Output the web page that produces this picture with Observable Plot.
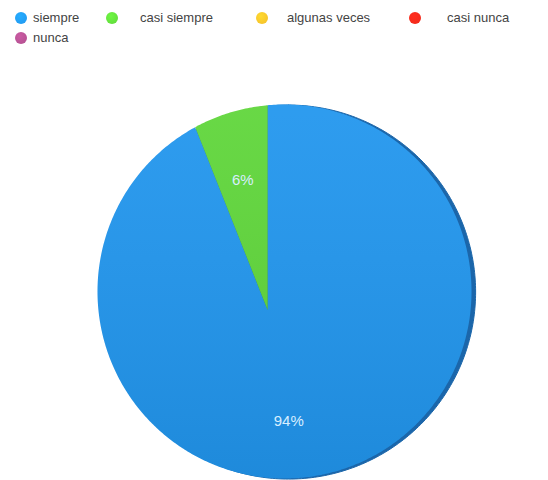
<!DOCTYPE html>
<html>
<head>
<meta charset="utf-8">
<script src="https://cdn.jsdelivr.net/npm/d3@7"></script>
<script src="https://cdn.jsdelivr.net/npm/@observablehq/plot@0.6"></script>
<style>
  body { margin: 0; background: #fff; font-family: "Liberation Sans", Arial, sans-serif; }
  #legend { position: relative; width: 548px; height: 60px; }
  .item { position: absolute; font-size: 13px; color: #444; line-height: 16px; }
  .dot { position: absolute; width: 12px; height: 12px; border-radius: 50%; }
  #chart svg { display: block; }
</style>
</head>
<body>
<div id="legend"></div>
<div id="chart"></div>
<script>
const categories = ["siempre", "casi siempre", "algunas veces", "casi nunca", "nunca"];
const values = [94, 6, 0, 0, 0];
const colors = ["#2196ee", "#5fd63a", "#f3bd2a", "#f0281a", "#b04f8e"];

// legend placement (style only)
const legendPos = [[15, 10, 33], [106, 10, 140], [256, 10, 287], [409, 10, 447], [15, 30, 33]];
const legend = document.getElementById("legend");
categories.forEach((c, i) => {
  const [dx, ty, tx] = legendPos[i];
  const dot = document.createElement("div");
  dot.className = "dot";
  dot.style.left = dx + "px"; dot.style.top = (ty + 2) + "px";
  dot.style.background = `radial-gradient(circle at 40% 35%, ${d3.color(colors[i]).brighter(0.4)}, ${colors[i]})`;
  legend.appendChild(dot);
  const t = document.createElement("div");
  t.className = "item";
  t.style.left = tx + "px"; t.style.top = ty + "px";
  t.textContent = c;
  legend.appendChild(t);
});

const rows = categories.map((c, i) => ({cat: c, value: values[i]}));
const arcs = d3.pie().sort(null).value(d => d.value)(rows).filter(a => a.value > 0);

// perspective-shifted apex of the wedges (tilted disc)
const apex = [-0.09, -0.10];
function edge(a) {
  const d = [Math.sin(a), Math.cos(a)];
  const pd = apex[0] * d[0] + apex[1] * d[1];
  const pp = apex[0] * apex[0] + apex[1] * apex[1];
  const t = -pd + Math.sqrt(pd * pd - pp + 1);
  return [apex[0] + t * d[0], apex[1] + t * d[1], t];
}
const slicePts = [];
for (const a of arcs) {
  slicePts.push({cat: a.data.cat, x: apex[0], y: apex[1]});
  const n = Math.max(2, Math.ceil((a.endAngle - a.startAngle) / 0.01));
  for (let k = 0; k <= n; k++) {
    const ang = a.startAngle + (a.endAngle - a.startAngle) * k / n;
    const [x, y] = edge(ang);
    slicePts.push({cat: a.data.cat, x, y});
  }
}
const disc = (ox, oy, key) => d3.range(0, 361).map(k => ({key, x: ox + Math.sin(k * Math.PI / 180), y: oy + Math.cos(k * Math.PI / 180)}));
const rim = disc(0.022, -0.003, "rim");
const face = disc(0, 0, "face");

const labels = arcs.map(a => {
  const m = (a.startAngle + a.endAngle) / 2;
  const [, , t] = edge(m);
  const f = 0.66 * t;
  return {x: apex[0] + f * Math.sin(m), y: apex[1] + f * Math.cos(m), text: Math.round(a.value / d3.sum(values) * 100) + "%"};
});

const defs = () => {
  const s = d3.create("svg:defs");
  const g = s.append("linearGradient").attr("id", "shade").attr("x1", 0).attr("y1", 0).attr("x2", 0).attr("y2", 1);
  g.append("stop").attr("offset", "0%").attr("stop-color", "#ffffff").attr("stop-opacity", 0.06);
  g.append("stop").attr("offset", "100%").attr("stop-color", "#000000").attr("stop-opacity", 0.08);
  return s.node();
};

const chart = Plot.plot({
  width: 548,
  height: 420,
  marginLeft: 97,
  marginRight: 77,
  marginTop: 44,
  marginBottom: 2,
  x: {domain: [-1, 1], axis: null},
  y: {domain: [-1, 1], axis: null},
  color: {domain: categories, range: colors},
  marks: [
    defs,
    Plot.line(rim, {x: "x", y: "y", fill: "#1b66aa", stroke: "#1b66aa", strokeWidth: 1, curve: "linear"}),
    Plot.line(slicePts, {x: "x", y: "y", z: "cat", fill: "cat", stroke: null, curve: "linear"}),
    Plot.line(face, {x: "x", y: "y", fill: "url(#shade)", stroke: null, curve: "linear"}),
    Plot.text(labels, {x: "x", y: "y", text: "text", fill: "#d8eeff", fontSize: 15, fontFamily: "Liberation Sans, Arial, sans-serif"})
  ]
});
document.getElementById("chart").appendChild(chart);
</script>
</body>
</html>
